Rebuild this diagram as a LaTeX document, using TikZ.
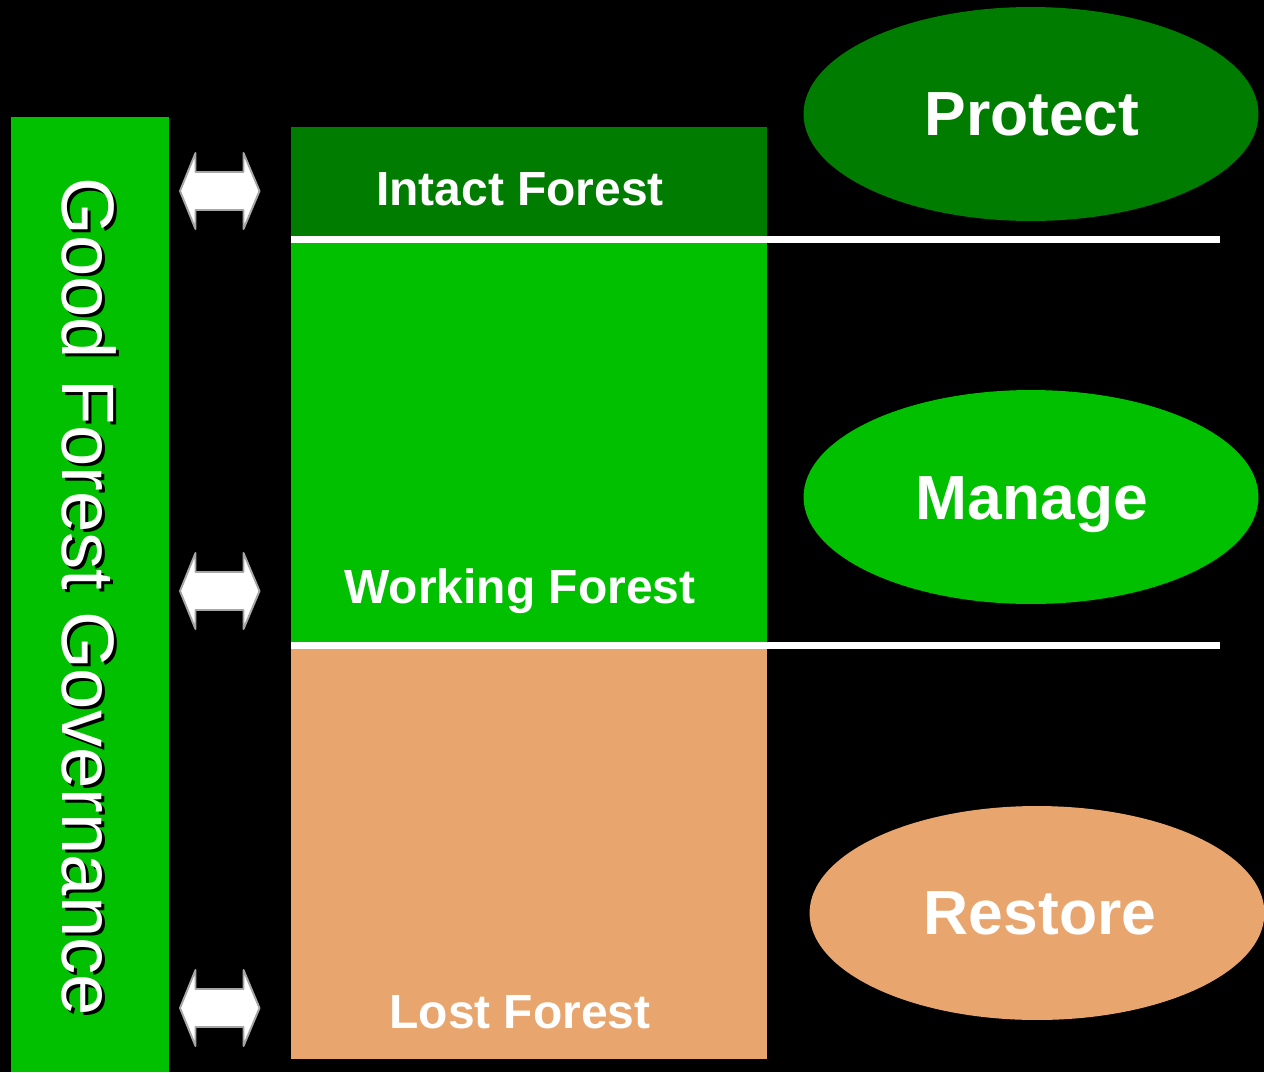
\documentclass[tikz,border=0pt]{standalone}
\usepackage{fontspec}
\setmainfont{Liberation Sans}
\usetikzlibrary{shapes.geometric}
\definecolor{darkgr}{RGB}{0,124,0}
\definecolor{brightgr}{RGB}{0,192,0}
\definecolor{tan}{RGB}{232,166,110}
\tikzset{
  band/.style={draw=none, inner sep=0pt, anchor=north west},
  bandtext/.style={text=white, font=\fontsize{27.3}{30}\selectfont\bfseries, inner sep=0pt, anchor=base},
  oval/.style={ellipse, draw=none, minimum width=9.1cm, minimum height=4.28cm, inner sep=0pt},
  ovaltext/.style={text=white, font=\fontsize{35.5}{40}\selectfont\bfseries, inner sep=0pt, anchor=base},
  divider/.style={draw=white, line width=4pt},
  twoway/.style={fill=white, draw=gray!70, line width=1.1pt, line join=round},
  govtext/.style={font=\fontsize{42.3}{46}\selectfont, inner sep=0pt, anchor=base west, rotate=-90}
}
\begin{document}
\begin{tikzpicture}[x=0.02cm, y=-0.02cm]
\fill[black] (0,0) rectangle (1264,1072);
\useasboundingbox (0,0) rectangle (1264,1072);
% left governance bar
\fill[brightgr] (11,117) rectangle (169,1072);
\node[govtext, text=black] (govshadow) at (65,180) {Good Forest Governance};
\node[govtext, text=white] (gov) at (62,177) {Good Forest Governance};
% forest bands
\fill[darkgr] (291,127) rectangle (767,240);
\fill[brightgr] (291,240) rectangle (767,646);
\fill[tan] (291,646) rectangle (767,1059);
\node[bandtext] (intact) at (520,205) {Intact Forest};
\node[bandtext] (working) at (520,603) {Working Forest};
\node[bandtext] (lost) at (520,1028) {Lost Forest};
% dividers
\coordinate (d1a) at (291,239.5);
\coordinate (d1b) at (1220,239.5);
\coordinate (d2a) at (291,645.5);
\coordinate (d2b) at (1220,645.5);
\draw[divider] (d1a) -- (d1b);
\draw[divider] (d2a) -- (d2b);
% ovals
\node[oval, fill=darkgr] (protectoval) at (1031,114) {};
\node[oval, fill=brightgr] (manageoval) at (1031,497) {};
\node[oval, fill=tan] (restoreoval) at (1037,913) {};
\node[ovaltext] (protect) at (1032,135) {Protect};
\node[ovaltext] (manage) at (1032,519) {Manage};
\node[ovaltext] (restore) at (1040,934) {Restore};
% double arrows
\foreach \cy/\nm in {191/a1, 591/a2, 1008/a3}{
  \coordinate (\nm) at (219.5,\cy);
  \draw[twoway] (\nm) ++(-39.5,0) -- ++(15.5,-38) -- ++(0,19) -- ++(48,0) -- ++(0,-19)
     -- ++(16,38) -- ++(-16,38) -- ++(0,-19) -- ++(-48,0) -- ++(0,19) -- cycle;
}
\end{tikzpicture}
\end{document}
